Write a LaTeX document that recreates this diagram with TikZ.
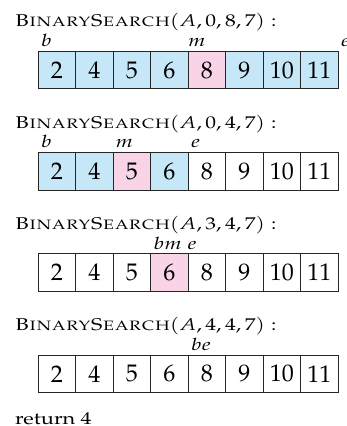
\documentclass[tikz,border=0pt]{standalone}
\usepackage[T1]{fontenc}
\usepackage{mathpazo}
\definecolor{cblue}{RGB}{198,231,247}
\definecolor{cpink}{RGB}{249,212,230}
\newcommand{\mywide}[1]{\scalebox{1.28}[1]{#1}}
\newcommand{\mytwide}[1]{\scalebox{1.265}[1]{#1}}
\begin{document}
\begin{tikzpicture}[x=1pt,y=-1pt,
  cell/.style={draw=black!85, line width=1pt, minimum width=37.5pt, minimum height=37.5pt,
    inner sep=0pt, anchor=north west, font=\fontsize{24}{28}\selectfont},
  title/.style={anchor=base west, inner sep=0pt, font=\fontsize{17}{20}\selectfont},
  lab/.style={anchor=base west, inner sep=0pt, font=\fontsize{17}{20}\selectfont}]
\useasboundingbox (0,0) rectangle (347,426);
% row 1
\node[title] (t1) at (15,26.7) {\mytwide{$\textsc{BinarySearch}(A,0,8,7):$}};
\foreach \v/\f [count=\i from 0] in {2/cblue,4/cblue,5/cblue,6/cblue,8/cpink,9/cblue,10/cblue,11/cblue}
  \node[cell, fill=\f] (a\i) at (37.5+37.5*\i,50.7) {\v};
\node[lab] (a-b) at (41,46.5) {\mywide{$b$}};
\node[lab] (a-m) at (188,46.5) {\mywide{$m$}};
\node[lab] (a-e) at (341,46.5) {\mywide{$e$}};
% row 2
\node[title] (t2) at (15,128) {\mytwide{$\textsc{BinarySearch}(A,0,4,7):$}};
\foreach \v/\f [count=\i from 0] in {2/cblue,4/cblue,5/cpink,6/cblue,8/white,9/white,10/white,11/white}
  \node[cell, fill=\f] (b\i) at (37.5+37.5*\i,152) {\v};
\node[lab] (b-b) at (41,147.8) {\mywide{$b$}};
\node[lab] (b-m) at (115.5,147.8) {\mywide{$m$}};
\node[lab] (b-e) at (191,147.8) {\mywide{$e$}};
% row 3
\node[title] (t3) at (15,229.3) {\mytwide{$\textsc{BinarySearch}(A,3,4,7):$}};
\foreach \v/\f [count=\i from 0] in {2/white,4/white,5/white,6/cpink,8/white,9/white,10/white,11/white}
  \node[cell, fill=\f] (c\i) at (37.5+37.5*\i,253.3) {\v};
\node[lab] (c-bm) at (153.5,249) {\mywide{$bm$}};
\node[lab] (c-e) at (187.5,249) {\mywide{$e$}};
% row 4
\node[title] (t4) at (15,330.6) {\mytwide{$\textsc{BinarySearch}(A,4,4,7):$}};
\foreach \v [count=\i from 0] in {2,4,5,6,8,9,10,11}
  \node[cell, fill=white] (d\i) at (37.5+37.5*\i,354.6) {\v};
\node[lab] (d-be) at (191,350.3) {\mywide{$be$}};
% result
\node[title] (ret) at (15,424.5) {\mywide{return 4}};
\end{tikzpicture}
\end{document}
